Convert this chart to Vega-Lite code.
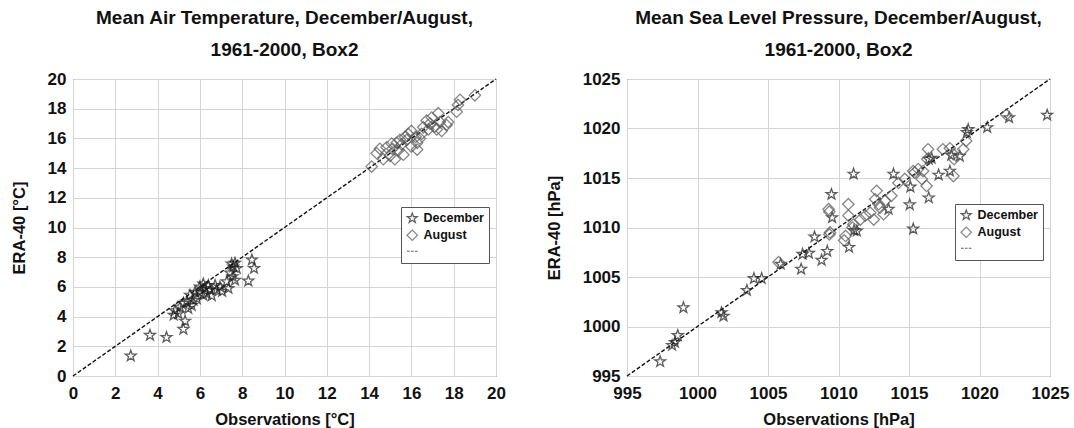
{
  "$schema": "https://vega.github.io/schema/vega-lite/v6.json",
  "background": "white",
  "padding": {"left": 10, "top": 8, "right": 0, "bottom": 0},
  "config": {
    "font": "Liberation Sans",
    "view": {"stroke": "#444", "strokeWidth": 1},
    "title": {"fontSize": 19, "fontWeight": "bold", "color": "#111", "lineHeight": 32, "offset": 10, "anchor": "middle"},
    "axis": {"labelFontSize": 17, "labelFontWeight": "bold", "labelColor": "#111", "titleFontSize": 16.5, "titleFontWeight": "bold", "titleColor": "#111", "gridColor": "#d4d4d4", "gridWidth": 1, "domain": false, "ticks": false, "tickSize": 0, "labelFlush": false, "labelOverlap": false, "format": "d"},
    "axisX": {"labelPadding": 9, "titlePadding": 10},
    "axisY": {"labelPadding": 7, "titlePadding": 20},
    "legend": {"orient": "none", "title": null, "labelFontSize": 12.5, "labelFontWeight": "bold", "labelColor": "#111", "symbolSize": 110, "symbolStrokeWidth": 1.2, "rowPadding": 2, "padding": 5, "strokeColor": "#555", "fillColor": "white", "labelOffset": 5, "symbolFillColor": "transparent"}
  },
  "datasets": {
    "temp": [
      {"series": "December", "obs": 2.73, "era": 1.35}, {"series": "December", "obs": 3.64, "era": 2.75}, {"series": "December", "obs": 4.42, "era": 2.6}, {"series": "December", "obs": 5.22, "era": 3.15}, {"series": "December", "obs": 5.3, "era": 3.7}, {"series": "December", "obs": 4.76, "era": 4.1}, {"series": "December", "obs": 4.82, "era": 4.4}, {"series": "December", "obs": 4.98, "era": 4.2}, {"series": "December", "obs": 5.06, "era": 4.65}, {"series": "December", "obs": 5.22, "era": 4.9}, {"series": "December", "obs": 5.38, "era": 5.0}, {"series": "December", "obs": 5.61, "era": 4.75}, {"series": "December", "obs": 5.53, "era": 5.45}, {"series": "December", "obs": 5.77, "era": 5.65}, {"series": "December", "obs": 6.0, "era": 6.0}, {"series": "December", "obs": 6.0, "era": 5.65}, {"series": "December", "obs": 6.16, "era": 6.2}, {"series": "December", "obs": 6.24, "era": 5.9}, {"series": "December", "obs": 6.4, "era": 6.1}, {"series": "December", "obs": 6.48, "era": 5.8}, {"series": "December", "obs": 6.56, "era": 5.4}, {"series": "December", "obs": 6.32, "era": 5.55}, {"series": "December", "obs": 6.72, "era": 6.1}, {"series": "December", "obs": 6.8, "era": 5.8}, {"series": "December", "obs": 6.95, "era": 6.0}, {"series": "December", "obs": 7.05, "era": 5.7}, {"series": "December", "obs": 7.27, "era": 6.35}, {"series": "December", "obs": 7.35, "era": 5.9}, {"series": "December", "obs": 7.55, "era": 6.7}, {"series": "December", "obs": 7.58, "era": 7.35}, {"series": "December", "obs": 7.5, "era": 7.55}, {"series": "December", "obs": 7.66, "era": 7.6}, {"series": "December", "obs": 7.74, "era": 7.25}, {"series": "December", "obs": 7.43, "era": 6.95}, {"series": "December", "obs": 7.66, "era": 6.45}, {"series": "December", "obs": 8.46, "era": 7.82}, {"series": "December", "obs": 8.56, "era": 7.25}, {"series": "December", "obs": 8.29, "era": 6.4}, {"series": "December", "obs": 5.85, "era": 5.2}, {"series": "December", "obs": 5.45, "era": 4.55}, {"series": "December", "obs": 6.16, "era": 5.44}, {"series": "December", "obs": 5.69, "era": 5.1},
      {"series": "August", "obs": 14.12, "era": 14.1}, {"series": "August", "obs": 14.36, "era": 15.0}, {"series": "August", "obs": 14.67, "era": 14.6}, {"series": "August", "obs": 14.99, "era": 14.83}, {"series": "August", "obs": 14.83, "era": 15.4}, {"series": "August", "obs": 15.1, "era": 15.3}, {"series": "August", "obs": 15.22, "era": 14.6}, {"series": "August", "obs": 15.3, "era": 15.7}, {"series": "August", "obs": 15.54, "era": 15.6}, {"series": "August", "obs": 15.62, "era": 14.9}, {"series": "August", "obs": 15.78, "era": 15.9}, {"series": "August", "obs": 15.85, "era": 16.3}, {"series": "August", "obs": 16.0, "era": 16.5}, {"series": "August", "obs": 16.0, "era": 15.45}, {"series": "August", "obs": 16.27, "era": 15.7}, {"series": "August", "obs": 16.2, "era": 16.1}, {"series": "August", "obs": 16.4, "era": 16.0}, {"series": "August", "obs": 16.48, "era": 16.3}, {"series": "August", "obs": 16.72, "era": 17.2}, {"series": "August", "obs": 16.88, "era": 17.0}, {"series": "August", "obs": 17.1, "era": 16.8}, {"series": "August", "obs": 17.27, "era": 17.7}, {"series": "August", "obs": 17.2, "era": 16.6}, {"series": "August", "obs": 17.35, "era": 17.1}, {"series": "August", "obs": 17.74, "era": 17.1}, {"series": "August", "obs": 18.14, "era": 17.8}, {"series": "August", "obs": 18.2, "era": 18.25}, {"series": "August", "obs": 18.3, "era": 18.6}, {"series": "August", "obs": 19.0, "era": 18.9}, {"series": "August", "obs": 14.51, "era": 15.3}, {"series": "August", "obs": 15.38, "era": 15.2}, {"series": "August", "obs": 15.7, "era": 16.1}, {"series": "August", "obs": 16.56, "era": 16.75}, {"series": "August", "obs": 16.96, "era": 17.4}, {"series": "August", "obs": 17.66, "era": 16.9}, {"series": "August", "obs": 15.46, "era": 15.9}, {"series": "August", "obs": 15.07, "era": 15.65}, {"series": "August", "obs": 16.27, "era": 15.25}, {"series": "August", "obs": 16.8, "era": 16.6}, {"series": "August", "obs": 17.43, "era": 16.5}
    ],
    "pres": [
      {"series": "December", "obs": 997.35, "era": 996.45}, {"series": "December", "obs": 998.2, "era": 998.1}, {"series": "December", "obs": 998.4, "era": 998.4}, {"series": "December", "obs": 998.6, "era": 999.1}, {"series": "December", "obs": 999.0, "era": 1001.9}, {"series": "December", "obs": 1001.7, "era": 1001.4}, {"series": "December", "obs": 1001.85, "era": 1001.05}, {"series": "December", "obs": 1003.5, "era": 1003.65}, {"series": "December", "obs": 1004.0, "era": 1004.85}, {"series": "December", "obs": 1004.55, "era": 1004.85}, {"series": "December", "obs": 1005.9, "era": 1006.3}, {"series": "December", "obs": 1007.35, "era": 1005.8}, {"series": "December", "obs": 1007.45, "era": 1007.3}, {"series": "December", "obs": 1007.9, "era": 1007.4}, {"series": "December", "obs": 1008.3, "era": 1009.05}, {"series": "December", "obs": 1008.8, "era": 1006.7}, {"series": "December", "obs": 1009.2, "era": 1007.6}, {"series": "December", "obs": 1009.55, "era": 1011.0}, {"series": "December", "obs": 1009.5, "era": 1013.35}, {"series": "December", "obs": 1010.75, "era": 1008.0}, {"series": "December", "obs": 1011.07, "era": 1015.4}, {"series": "December", "obs": 1011.3, "era": 1009.65}, {"series": "December", "obs": 1011.1, "era": 1009.7}, {"series": "December", "obs": 1013.55, "era": 1011.85}, {"series": "December", "obs": 1013.9, "era": 1015.4}, {"series": "December", "obs": 1015.1, "era": 1014.1}, {"series": "December", "obs": 1015.05, "era": 1012.3}, {"series": "December", "obs": 1015.3, "era": 1009.85}, {"series": "December", "obs": 1016.4, "era": 1013.0}, {"series": "December", "obs": 1016.4, "era": 1016.9}, {"series": "December", "obs": 1016.6, "era": 1017.0}, {"series": "December", "obs": 1017.1, "era": 1015.3}, {"series": "December", "obs": 1017.9, "era": 1015.7}, {"series": "December", "obs": 1018.6, "era": 1017.2}, {"series": "December", "obs": 1019.2, "era": 1019.9}, {"series": "December", "obs": 1019.1, "era": 1019.6}, {"series": "December", "obs": 1020.55, "era": 1020.1}, {"series": "December", "obs": 1022.1, "era": 1021.1}, {"series": "December", "obs": 1024.8, "era": 1021.35}, {"series": "December", "obs": 1018.0, "era": 1017.3},
      {"series": "August", "obs": 1005.75, "era": 1006.5}, {"series": "August", "obs": 1009.35, "era": 1011.6}, {"series": "August", "obs": 1009.35, "era": 1009.3}, {"series": "August", "obs": 1010.7, "era": 1012.35}, {"series": "August", "obs": 1010.7, "era": 1011.2}, {"series": "August", "obs": 1009.3, "era": 1011.85}, {"series": "August", "obs": 1009.4, "era": 1009.5}, {"series": "August", "obs": 1010.5, "era": 1009.15}, {"series": "August", "obs": 1011.05, "era": 1010.3}, {"series": "August", "obs": 1011.55, "era": 1010.8}, {"series": "August", "obs": 1011.9, "era": 1011.2}, {"series": "August", "obs": 1012.25, "era": 1011.5}, {"series": "August", "obs": 1012.5, "era": 1010.8}, {"series": "August", "obs": 1012.7, "era": 1013.7}, {"series": "August", "obs": 1012.6, "era": 1012.85}, {"series": "August", "obs": 1012.95, "era": 1012.0}, {"series": "August", "obs": 1013.3, "era": 1012.7}, {"series": "August", "obs": 1013.75, "era": 1013.2}, {"series": "August", "obs": 1014.25, "era": 1014.5}, {"series": "August", "obs": 1014.7, "era": 1014.9}, {"series": "August", "obs": 1015.4, "era": 1015.55}, {"series": "August", "obs": 1015.9, "era": 1014.9}, {"series": "August", "obs": 1016.25, "era": 1014.2}, {"series": "August", "obs": 1016.35, "era": 1017.9}, {"series": "August", "obs": 1015.65, "era": 1015.9}, {"series": "August", "obs": 1013.2, "era": 1011.35}, {"series": "August", "obs": 1012.85, "era": 1012.35}, {"series": "August", "obs": 1021.9, "era": 1021.4}, {"series": "August", "obs": 1019.05, "era": 1018.75}, {"series": "August", "obs": 1018.85, "era": 1017.9}, {"series": "August", "obs": 1018.15, "era": 1017.4}, {"series": "August", "obs": 1018.15, "era": 1015.2}, {"series": "August", "obs": 1017.4, "era": 1017.9}, {"series": "August", "obs": 1017.9, "era": 1018.0}, {"series": "August", "obs": 1018.2, "era": 1016.9}, {"series": "August", "obs": 1016.3, "era": 1016.9}, {"series": "August", "obs": 1016.0, "era": 1015.7}, {"series": "August", "obs": 1015.3, "era": 1015.7}, {"series": "August", "obs": 1010.4, "era": 1008.7}, {"series": "August", "obs": 1011.0, "era": 1010.0}
    ],
    "diagT": [{"obs": 0, "era": 0}, {"obs": 20, "era": 20}],
    "diagP": [{"obs": 995, "era": 995}, {"obs": 1025, "era": 1025}]
  },
  "spacing": 39,
  "resolve": {"scale": {"shape": "independent", "color": "independent", "x": "independent", "y": "independent"}, "legend": {"shape": "independent", "color": "independent"}},
  "hconcat": [
    {
      "title": {"text": ["Mean Air Temperature, December/August,", "1961-2000, Box2"]},
      "width": 423,
      "height": 297,
      "layer": [
        {
          "data": {"name": "diagT"},
          "mark": {"type": "line", "color": "#111", "strokeDash": [4, 2], "strokeWidth": 1.4},
          "encoding": {
            "x": {"field": "obs", "type": "quantitative", "scale": {"domain": [0, 20], "nice": false}, "axis": {"values": [0, 2, 4, 6, 8, 10, 12, 14, 16, 18, 20], "tickCount": 11, "title": "Observations [°C]"}},
            "y": {"field": "era", "type": "quantitative", "scale": {"domain": [0, 20], "nice": false}, "axis": {"values": [0, 2, 4, 6, 8, 10, 12, 14, 16, 18, 20], "tickCount": 11, "title": "ERA-40 [°C]"}}
          }
        },
        {
          "data": {"name": "temp"},
          "mark": {"type": "point", "filled": false, "strokeWidth": 1.3, "size": 130},
          "encoding": {
            "x": {"field": "obs", "type": "quantitative"},
            "y": {"field": "era", "type": "quantitative"},
            "shape": {"field": "series", "type": "nominal", "scale": {"domain": ["December", "August", "---"], "range": ["M0,-1L0.235,-0.324L0.951,-0.309L0.38,0.124L0.588,0.809L0,0.4L-0.588,0.809L-0.38,0.124L-0.951,-0.309L-0.235,-0.324Z", "diamond", "M-1,0H-0.5M-0.25,0H0.25M0.5,0H1"]}, "legend": {"legendX": 328, "legendY": 128, "labelExpr": "datum.label == '---' ? '' : datum.label"}},
            "color": {"field": "series", "type": "nominal", "scale": {"domain": ["December", "August", "---"], "range": ["#1a1a1a", "#555555", "#1a1a1a"]}, "legend": {"legendX": 328, "legendY": 128, "labelExpr": "datum.label == '---' ? '' : datum.label"}}
          }
        }
      ]
    },
    {
      "title": {"text": ["Mean Sea Level Pressure, December/August,", "1961-2000, Box2"]},
      "width": 423,
      "height": 297,
      "layer": [
        {
          "data": {"name": "diagP"},
          "mark": {"type": "line", "color": "#111", "strokeDash": [4, 2], "strokeWidth": 1.4},
          "encoding": {
            "x": {"field": "obs", "type": "quantitative", "scale": {"domain": [995, 1025], "nice": false, "zero": false}, "axis": {"values": [995, 1000, 1005, 1010, 1015, 1020, 1025], "tickCount": 7, "title": "Observations [hPa]"}},
            "y": {"field": "era", "type": "quantitative", "scale": {"domain": [995, 1025], "nice": false, "zero": false}, "axis": {"values": [995, 1000, 1005, 1010, 1015, 1020, 1025], "tickCount": 7, "title": "ERA-40 [hPa]"}}
          }
        },
        {
          "data": {"name": "pres"},
          "mark": {"type": "point", "filled": false, "strokeWidth": 1.3, "size": 130},
          "encoding": {
            "x": {"field": "obs", "type": "quantitative"},
            "y": {"field": "era", "type": "quantitative"},
            "shape": {"field": "series", "type": "nominal", "scale": {"domain": ["December", "August", "---"], "range": ["M0,-1L0.235,-0.324L0.951,-0.309L0.38,0.124L0.588,0.809L0,0.4L-0.588,0.809L-0.38,0.124L-0.951,-0.309L-0.235,-0.324Z", "diamond", "M-1,0H-0.5M-0.25,0H0.25M0.5,0H1"]}, "legend": {"legendX": 328, "legendY": 125, "labelExpr": "datum.label == '---' ? '' : datum.label"}},
            "color": {"field": "series", "type": "nominal", "scale": {"domain": ["December", "August", "---"], "range": ["#1a1a1a", "#555555", "#1a1a1a"]}, "legend": {"legendX": 328, "legendY": 125, "labelExpr": "datum.label == '---' ? '' : datum.label"}}
          }
        }
      ]
    }
  ]
}
